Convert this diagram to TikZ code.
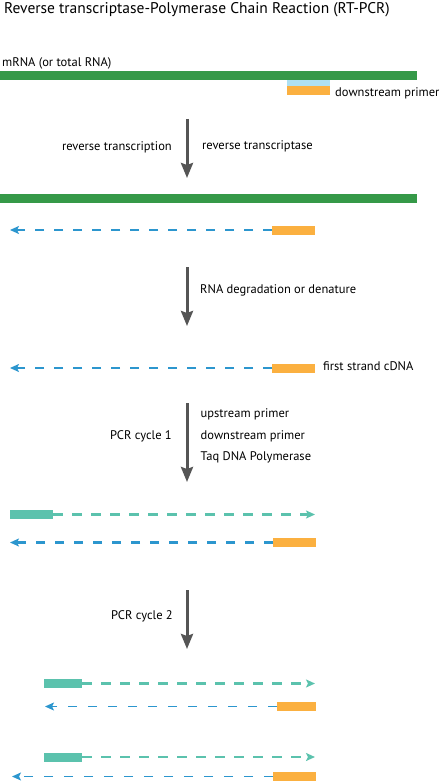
\documentclass[tikz,border=0pt]{standalone}
\usepackage{fontspec}
\setmainfont{PT Sans}
\usetikzlibrary{arrows.meta}
\definecolor{rnagreen}{RGB}{53,153,72}
\definecolor{primerorange}{RGB}{251,176,64}
\definecolor{primerteal}{RGB}{91,194,173}
\definecolor{cdnablue}{RGB}{44,150,206}
\definecolor{lightblue}{RGB}{174,224,242}
\definecolor{arrowgray}{RGB}{85,85,85}
\tikzset{
  lbl/.style={inner sep=0pt, font=\fontsize{12.5}{14}\selectfont, text=black},
  bar/.style={inner sep=0pt, outer sep=0pt, draw=none, minimum height=9pt},
  rnabar/.style={bar, fill=rnagreen, minimum width=417pt, anchor=north west},
  obar/.style={bar, fill=primerorange, anchor=north west},
  tbar/.style={bar, fill=primerteal, anchor=north west},
  stepflow/.style={draw=arrowgray, line width=3pt, -{Stealth[width=12pt,length=15pt,inset=2pt]}},
  strandthick/.style={line width=2.2pt, dash pattern=on 9.5pt off 9.5pt, -{Stealth[width=8pt,length=9pt,inset=2pt]}},
  strandthin/.style={line width=1.3pt, dash pattern=on 9pt off 11pt, -{Stealth[width=8pt,length=9pt,inset=2pt]}},
}
\begin{document}
\begin{tikzpicture}[x=1pt,y=-1pt]
\useasboundingbox (0,0) rectangle (443,781);
% title
\node[inner sep=0pt, anchor=base west, font=\fontsize{15.5}{18}\selectfont] (title) at (4,14) {Reverse transcriptase-Polymerase Chain Reaction (RT-PCR)};
% mRNA
\node[lbl, anchor=base west] (mrnalbl) at (2,66.5) {mRNA (or total RNA)};
\node[rnabar] (mrna1) at (0,71) {};
\node[bar, fill=lightblue, minimum width=43pt, minimum height=6pt, anchor=north west] (hyb) at (287,80) {};
\node[obar, minimum width=43pt] (dp1) at (287,86) {};
\node[lbl, anchor=base west] (dplbl) at (335,96.5) {downstream primer};
% step 1
\coordinate (s1a) at (187,119);
\coordinate (s1b) at (187,178);
\draw[stepflow] (s1a) -- (s1b);
\node[lbl, anchor=base east] (rtlbl) at (172,150) {reverse transcription};
\node[lbl, anchor=base west] (rtaselbl) at (202,149) {reverse transcriptase};
% after RT
\node[rnabar] (mrna2) at (0,194) {};
\node[obar, minimum width=43pt] (pA) at (272,225.5) {};
\coordinate (tA) at (10,230);
\draw[strandthick, draw=cdnablue, color=cdnablue] (pA.west) -- (tA);
% step 2
\coordinate (s2a) at (187,267);
\coordinate (s2b) at (187,326);
\draw[stepflow] (s2a) -- (s2b);
\node[lbl, anchor=base west] (deglbl) at (200,293) {RNA degradation or denature};
% first strand
\node[obar, minimum width=43pt] (pB) at (272,363.5) {};
\coordinate (tB) at (10,368);
\draw[strandthick, draw=cdnablue, color=cdnablue] (pB.west) -- (tB);
\node[lbl, anchor=base west] (fslbl) at (323,370.5) {first strand cDNA};
% step 3
\coordinate (s3a) at (187,403);
\coordinate (s3b) at (187,482);
\draw[stepflow] (s3a) -- (s3b);
\node[lbl, anchor=base east] (pcr1lbl) at (172,439) {PCR cycle 1};
\node[lbl, anchor=base west] (uplbl) at (200.5,417.5) {upstream primer};
\node[lbl, anchor=base west] (dnlbl) at (200.5,439) {downstream primer};
\node[lbl, anchor=base west] (taqlbl) at (200.5,460) {Taq DNA Polymerase};
% after cycle 1
\node[tbar, minimum width=43pt] (uC) at (10,510) {};
\coordinate (tC) at (315,514.5);
\draw[strandthick, draw=primerteal, color=primerteal] (uC.east) -- (tC);
\node[obar, minimum width=43pt] (pD) at (273,538) {};
\coordinate (tD) at (10,542.5);
\draw[strandthick, draw=cdnablue, color=cdnablue] (pD.west) -- (tD);
% step 4
\coordinate (s4a) at (187,590);
\coordinate (s4b) at (187,649);
\draw[stepflow] (s4a) -- (s4b);
\node[lbl, anchor=base east] (pcr2lbl) at (173,619) {PCR cycle 2};
% after cycle 2, pair 1
\node[tbar, minimum width=38pt] (uE) at (44,679) {};
\coordinate (tE) at (315,683.5);
\draw[strandthick, draw=primerteal, color=primerteal] (uE.east) -- (tE);
\node[obar, minimum width=39pt] (pF) at (277,702) {};
\coordinate (tF) at (45,706.5);
\draw[strandthin, draw=cdnablue, color=cdnablue] (pF.west) -- (tF);
% pair 2
\node[tbar, minimum width=38pt] (uG) at (44,752.5) {};
\coordinate (tG) at (315,757);
\draw[strandthick, draw=primerteal, color=primerteal] (uG.east) -- (tG);
\node[obar, minimum width=43pt] (pH) at (273,772) {};
\coordinate (tH) at (12,776.5);
\draw[strandthin, draw=cdnablue, color=cdnablue] (pH.west) -- (tH);
\end{tikzpicture}
\end{document}
